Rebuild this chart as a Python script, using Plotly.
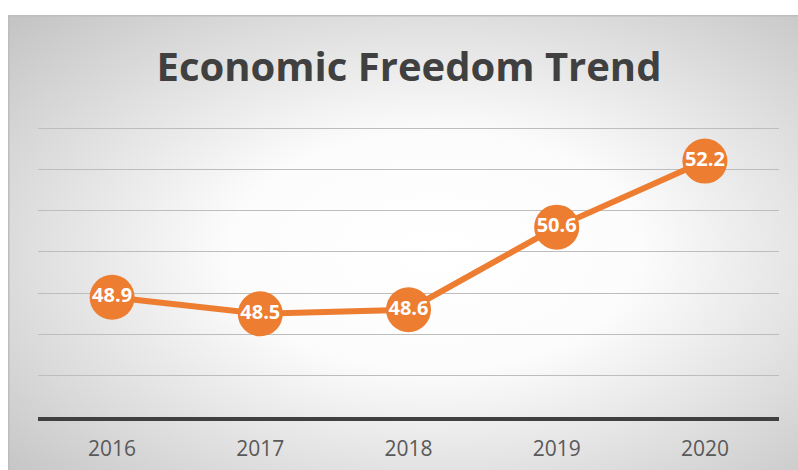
import base64
import plotly.graph_objects as go

years = ["2016", "2017", "2018", "2019", "2020"]
scores = [48.9, 48.5, 48.6, 50.6, 52.2]
score_labels = ["48.9", "48.5", "48.6", "50.6", "52.2"]

W, H = 798, 470
ML, MR, MT, MB = 38, 19, 126, 53
BOX_X0, BOX_Y0 = 8, 15

ORANGE = "#ED7D31"

# soft radial backdrop for the chart box
box_w, box_h = W - BOX_X0, H - BOX_Y0
svg = f"""<svg xmlns='http://www.w3.org/2000/svg' width='{box_w}' height='{box_h}' viewBox='0 0 {box_w} {box_h}' preserveAspectRatio='none'>
<defs><radialGradient id='g' cx='0.54' cy='0.52' r='0.74' fx='0.54' fy='0.52'>
<stop offset='0' stop-color='#ffffff'/>
<stop offset='0.35' stop-color='#fcfcfc'/>
<stop offset='1' stop-color='#c4c4c4'/>
</radialGradient></defs>
<rect x='0' y='0' width='{box_w}' height='{box_h}' fill='url(#g)'/>
<line x1='0.75' y1='0' x2='0.75' y2='{box_h}' stroke='#bdbdbd' stroke-width='1.5'/>
<line x1='0' y1='0.75' x2='{box_w}' y2='0.75' stroke='#bdbdbd' stroke-width='1.5'/>
</svg>"""
bg_uri = "data:image/svg+xml;base64," + base64.b64encode(svg.encode()).decode()

plot_w = W - ML - MR
plot_h = H - MT - MB

fig = go.Figure()
fig.add_trace(go.Scatter(
    x=years,
    y=scores,
    mode="lines+markers+text",
    text=score_labels,
    textposition="middle center",
    textfont=dict(family="Open Sans", size=20, color="white", weight="bold"),
    line=dict(color=ORANGE, width=6),
    marker=dict(size=45, color=ORANGE),
    hoverinfo="skip",
    cliponaxis=False,
))

fig.update_layout(
    width=W,
    height=H,
    margin=dict(l=ML, r=MR, t=MT, b=MB, autoexpand=False),
    paper_bgcolor="white",
    plot_bgcolor="rgba(0,0,0,0)",
    showlegend=False,
    title=dict(
        text="Economic Freedom Trend",
        x=409 / W,
        xanchor="center",
        xref="container",
        y=1 - 67 / H,
        yanchor="middle",
        font=dict(family="Open Sans", size=40, color="#404040", weight="bold"),
    ),
    images=[dict(
        source=bg_uri,
        xref="paper", yref="paper",
        x=(BOX_X0 - ML) / plot_w,
        y=(H - MB - BOX_Y0) / plot_h,
        sizex=box_w / plot_w,
        sizey=box_h / plot_h,
        xanchor="left", yanchor="top",
        sizing="stretch",
        layer="below",
    )],
    xaxis=dict(
        type="category",
        range=[-0.5, 4.5],
        automargin=False,
        showgrid=False,
        showline=True,
        linecolor="#404040",
        linewidth=4,
        ticks="outside",
        ticklen=10,
        tickcolor="rgba(0,0,0,0)",
        tickfont=dict(family="Open Sans", size=21, color="#595959"),
        fixedrange=True,
    ),
    yaxis=dict(
        range=[46, 53.05],
        dtick=1,
        automargin=False,
        showticklabels=False,
        showgrid=True,
        gridcolor="#bdbdbd",
        gridwidth=1.3,
        zeroline=False,
        showline=False,
        fixedrange=True,
    ),
)

fig.write_html("out.html")
